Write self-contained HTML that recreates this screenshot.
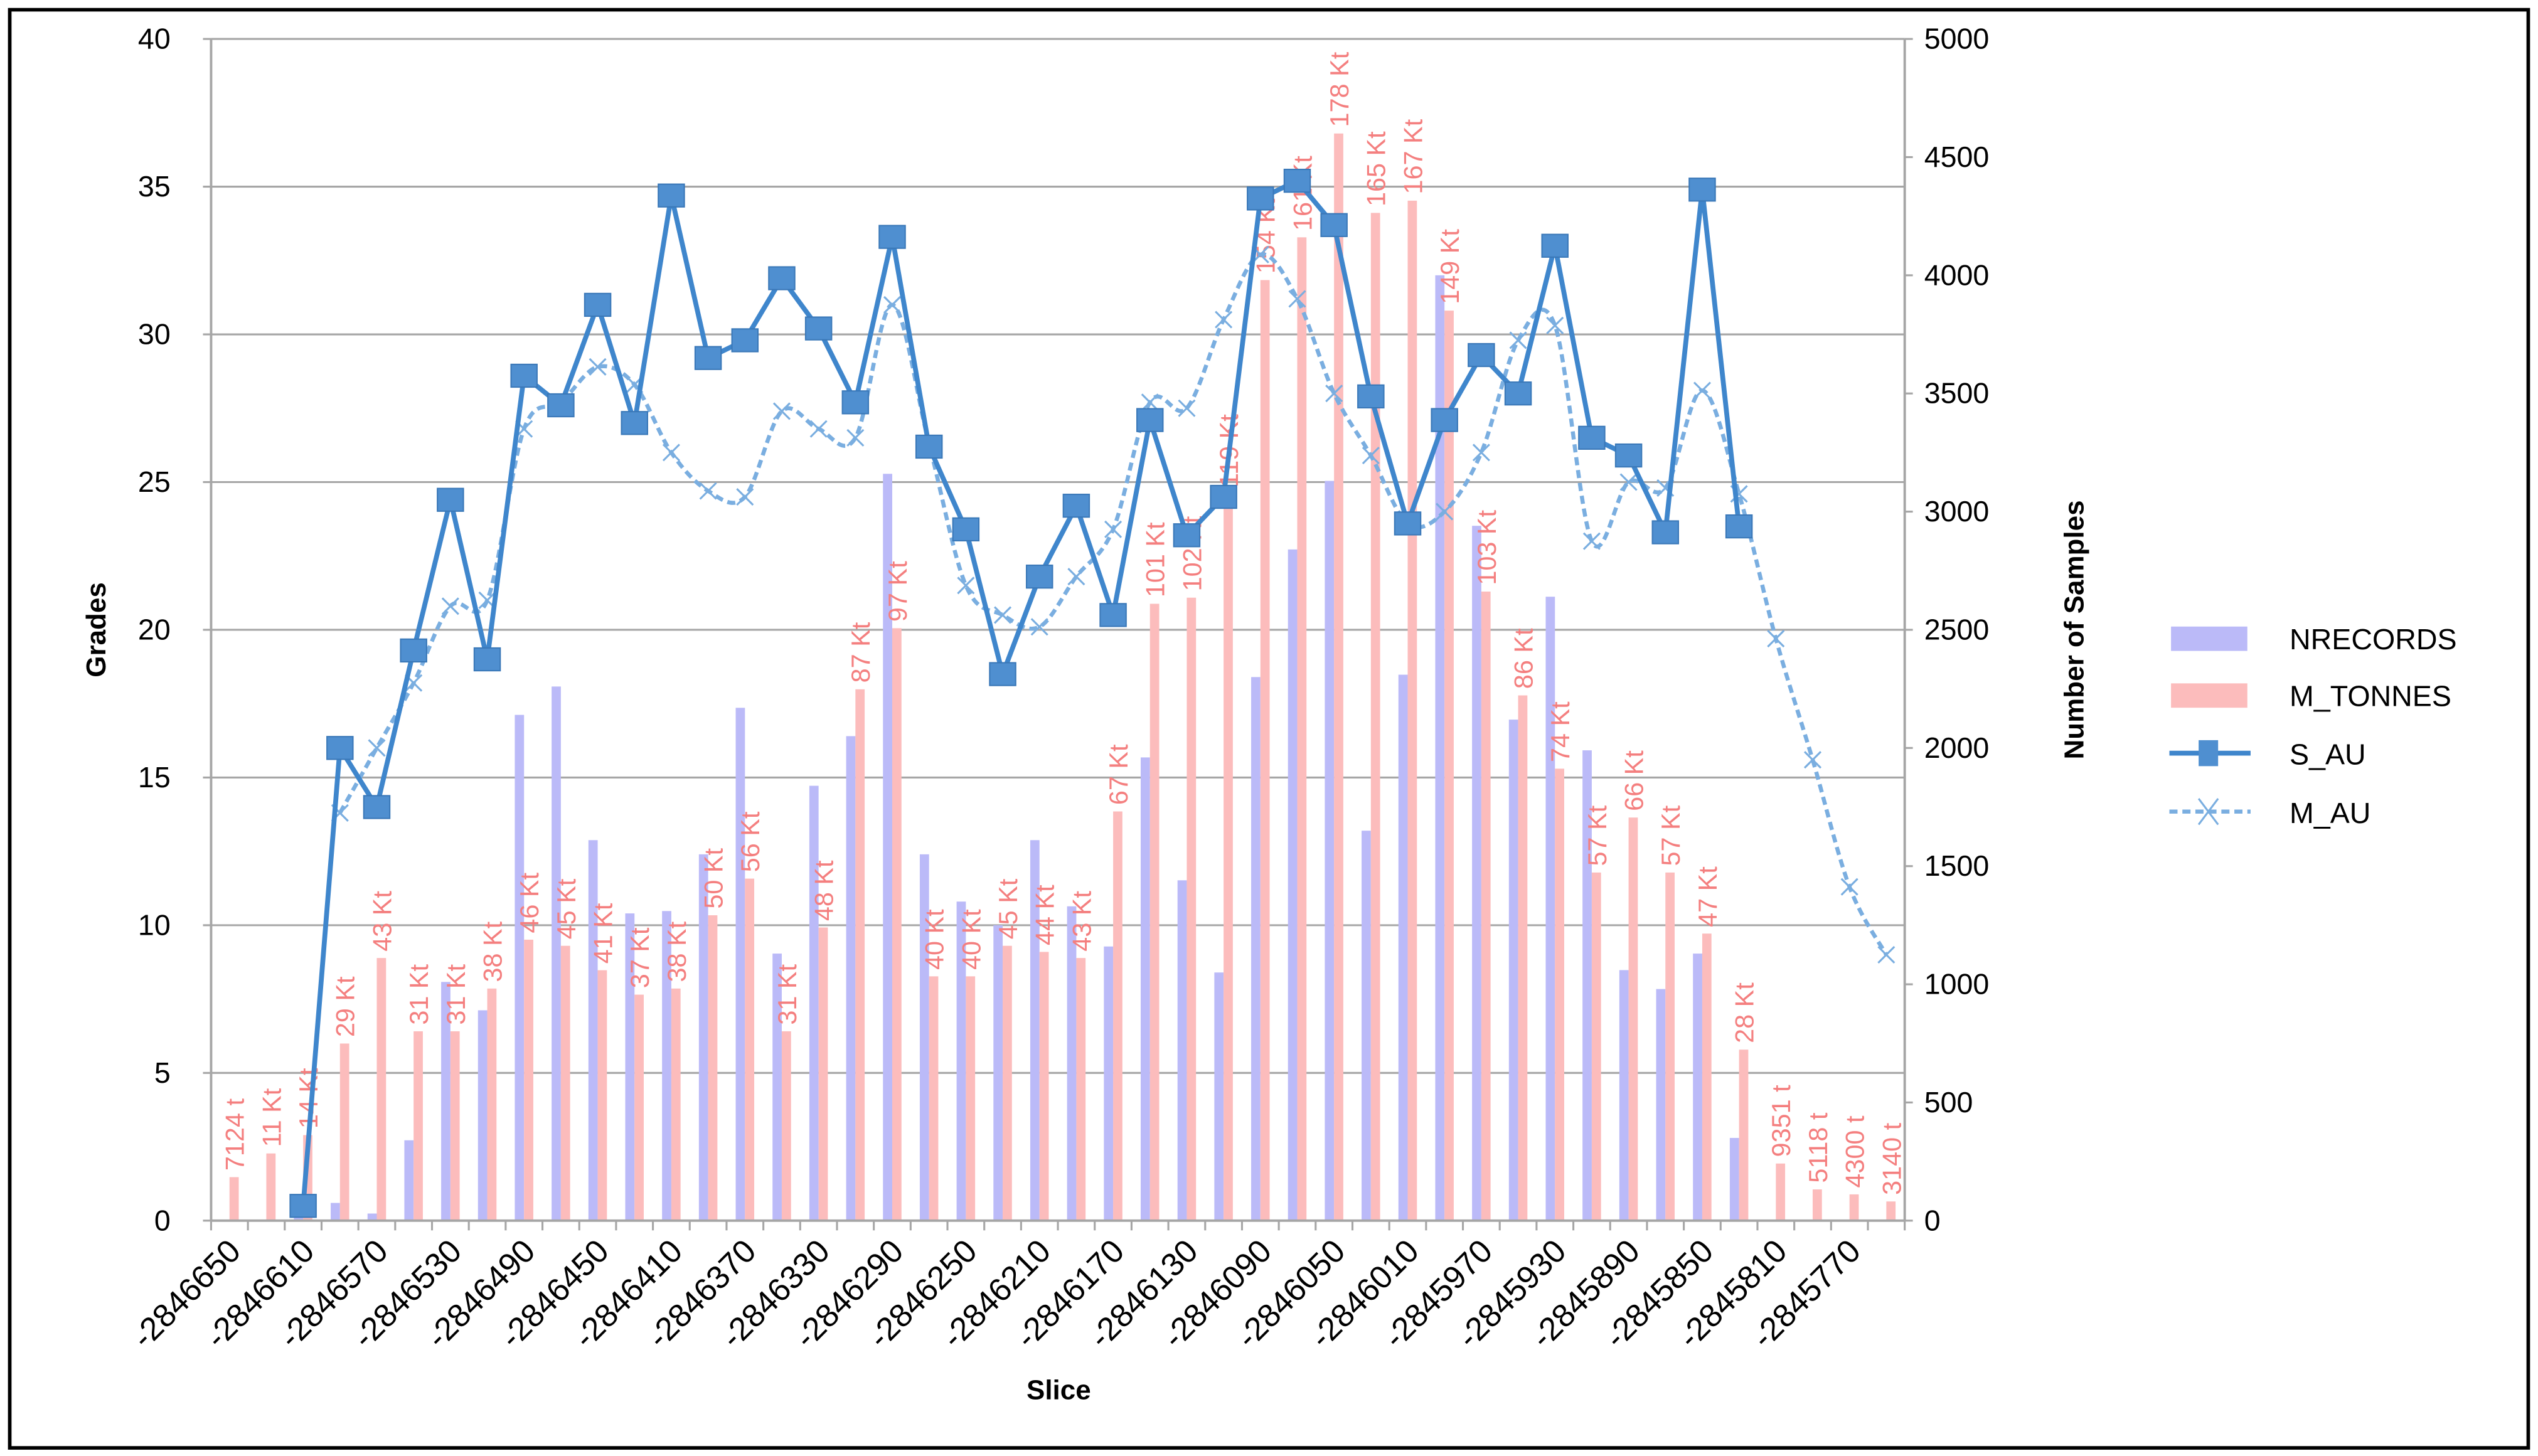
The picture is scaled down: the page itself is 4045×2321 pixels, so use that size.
<!DOCTYPE html>
<html><head><meta charset="utf-8">
<style>
html,body{margin:0;padding:0;background:#fff;}
svg{display:block;}
text{font-family:"Liberation Sans",sans-serif;}
</style></head>
<body>
<svg id="chart" width="4045" height="2321" viewBox="0 0 1563 897" preserveAspectRatio="none" xmlns="http://www.w3.org/2000/svg">
<rect x="0" y="0" width="1563" height="897" fill="#fff"/>
<rect x="6" y="6" width="1551" height="886" fill="none" stroke="#000" stroke-width="2.2"/>
<g id="grid"></g>
<g id="bars"></g>
<g id="lines"></g>
<g id="axes"></g>
<text transform="translate(65,388) rotate(-90)" text-anchor="middle" font-size="17" font-weight="bold">Grades</text>
<text transform="translate(1283,388) rotate(-90)" text-anchor="middle" font-size="17" font-weight="bold">Number of Samples</text>
<text x="652" y="862" text-anchor="middle" font-size="17" font-weight="bold">Slice</text>
<g>
<rect x="1337" y="386" width="47" height="15" fill="#bbbaf8"/>
<text x="1410" y="400" font-size="18">NRECORDS</text>
<rect x="1337" y="421" width="47" height="15" fill="#fcbcbc"/>
<text x="1410" y="435" font-size="18">M_TONNES</text>
<line x1="1336" y1="464" x2="1386" y2="464" stroke="#3f86cc" stroke-width="3"/>
<rect x="1354" y="456" width="12" height="16" fill="#4f8fd0"/>
<text x="1410" y="471" font-size="18">S_AU</text>
<line x1="1336" y1="500" x2="1386" y2="500" stroke="#7aaee0" stroke-width="2.5" stroke-dasharray="5,3"/>
<path d="M1354 492 L1366 508 M1366 492 L1354 508" stroke="#7aaee0" stroke-width="1.2"/>
<text x="1410" y="507" font-size="18">M_AU</text>
</g>
</svg>
<script>
const categories = [-2846650,-2846630,-2846610,-2846590,-2846570,-2846550,-2846530,-2846510,-2846490,-2846470,-2846450,-2846430,-2846410,-2846390,-2846370,-2846350,-2846330,-2846310,-2846290,-2846270,-2846250,-2846230,-2846210,-2846190,-2846170,-2846150,-2846130,-2846110,-2846090,-2846070,-2846050,-2846030,-2846010,-2845990,-2845970,-2845950,-2845930,-2845910,-2845890,-2845870,-2845850,-2845830,-2845810,-2845790,-2845770,-2845750];
const nrecords = [0,0,60,75,30,340,1010,890,2140,2260,1610,1300,1310,1550,2170,1130,1840,2050,3160,1550,1350,1250,1610,1330,1160,1960,1440,1050,2300,2840,3130,1650,2310,4000,2940,2120,2640,1990,1060,980,1130,350,0,0,0,0];
const tonnes = [7124,11000,14000,29000,43000,31000,31000,38000,46000,45000,41000,37000,38000,50000,56000,31000,48000,87000,97000,40000,40000,45000,44000,43000,67000,101000,102000,119000,154000,161000,178000,165000,167000,149000,103000,86000,74000,57000,66000,57000,47000,28000,9351,5118,4300,3140];
const tonneLabels = ["7124 t","11 Kt","14 Kt","29 Kt","43 Kt","31 Kt","31 Kt","38 Kt","46 Kt","45 Kt","41 Kt","37 Kt","38 Kt","50 Kt","56 Kt","31 Kt","48 Kt","87 Kt","97 Kt","40 Kt","40 Kt","45 Kt","44 Kt","43 Kt","67 Kt","101 Kt","102 Kt","119 Kt","154 Kt","161 Kt","178 Kt","165 Kt","167 Kt","149 Kt","103 Kt","86 Kt","74 Kt","57 Kt","66 Kt","57 Kt","47 Kt","28 Kt","9351 t","5118 t","4300 t","3140 t"];
const sAu = [null,null,0.5,16.0,14.0,19.3,24.4,19.0,28.6,27.6,31.0,27.0,34.7,29.2,29.8,31.9,30.2,27.7,33.3,26.2,23.4,18.5,21.8,24.2,20.5,27.1,23.2,24.5,34.6,35.2,33.7,27.9,23.6,27.1,29.3,28.0,33.0,26.5,25.9,23.3,34.9,23.5,null,null,null,null];
const mAu = [null,null,null,13.8,16.0,18.2,20.8,21.0,26.8,27.7,28.9,28.3,26.0,24.7,24.5,27.4,26.8,26.5,31.0,26.3,21.5,20.5,20.1,21.8,23.4,27.7,27.5,30.5,32.7,31.2,28.0,25.9,23.6,24.0,26.0,29.8,30.3,23.0,25.0,24.8,28.1,24.6,19.7,15.6,11.3,9.0];
const yTicks = [0,5,10,15,20,25,30,35,40];
const y2Ticks = [0,500,1000,1500,2000,2500,3000,3500,4000,4500,5000];

const NS="http://www.w3.org/2000/svg";
const L=130,R=1173,T=24,B=752;
const bw=(R-L)/categories.length;
function xc(i){return L+bw*(i+0.5);}
function y(v){return B-(v/40)*(B-T);}
function y2(v){return B-(v/5000)*(B-T);}
function yT(t){return y(t/1000*36.8/178);}
function mk(tag,attrs,parent){const e=document.createElementNS(NS,tag);for(const k in attrs)e.setAttribute(k,attrs[k]);parent.appendChild(e);return e;}
const grid=document.getElementById('grid'),bars=document.getElementById('bars'),lines=document.getElementById('lines'),axes=document.getElementById('axes');

yTicks.forEach(v=>{
  if(v>0){const g=mk('line',{x1:L,x2:R,y1:y(v),y2:y(v),stroke:'#a6a6a6','stroke-width':1.2},grid);
  
  }
  mk('line',{x1:L-5,x2:L,y1:y(v),y2:y(v),stroke:'#a6a6a6','stroke-width':1.2},axes);
  const t=mk('text',{x:L-25,y:y(v)+6,'text-anchor':'end','font-size':18},axes);t.textContent=v;
  
  
});
y2Ticks.forEach(v=>{
  mk('line',{x1:R,x2:R+5,y1:y2(v),y2:y2(v),stroke:'#a6a6a6','stroke-width':1.2},axes);
  const t=mk('text',{x:R+12,y:y2(v)+6,'font-size':18},axes);t.textContent=v;
  
  
});
mk('line',{x1:L,x2:L,y1:T,y2:B,stroke:'#a6a6a6','stroke-width':1.5},axes);
mk('line',{x1:R,x2:R,y1:T,y2:B,stroke:'#a6a6a6','stroke-width':1.5},axes);
mk('line',{x1:L,x2:R,y1:B,y2:B,stroke:'#a6a6a6','stroke-width':1.5},axes);
for(let i=0;i<=categories.length;i++){mk('line',{x1:L+bw*i,x2:L+bw*i,y1:B,y2:B+6,stroke:'#a6a6a6','stroke-width':1.2},axes);}
categories.forEach((c,i)=>{
  if(i%2!==0)return;
  const t=mk('text',{transform:`translate(${xc(i)+8},${B+20}) rotate(-45)`,'text-anchor':'end','font-size':20},axes);
  t.textContent=c;
  
  
});

const w=5.7;
categories.forEach((c,i)=>{
  if(nrecords[i]>0){const r=mk('rect',{x:xc(i)-w,y:y2(nrecords[i]),width:w,height:B-y2(nrecords[i]),fill:'#bbbaf8'},bars);
  
  }
  const ty=yT(tonnes[i]);
  const r2=mk('rect',{x:xc(i),y:ty,width:w,height:B-ty,fill:'#fcbcbc'},bars);
  
  
  const t=mk('text',{transform:`translate(${xc(i)+w/2+6},${ty-4}) rotate(-90)`,'font-size':16,fill:'#f47f7f'},bars);
  t.textContent=tonneLabels[i];
  
  
});

const mp=[];mAu.forEach((v,i)=>{if(v!=null)mp.push([xc(i),y(v)]);});
let d=`M${mp[0][0]},${mp[0][1]}`;
for(let k=0;k<mp.length-1;k++){
  const p0=mp[k-1]||mp[k],p1=mp[k],p2=mp[k+1],p3=mp[k+2]||mp[k+1];
  const c1=[p1[0]+(p2[0]-p0[0])/6,p1[1]+(p2[1]-p0[1])/6],c2=[p2[0]-(p3[0]-p1[0])/6,p2[1]-(p3[1]-p1[1])/6];
  d+=` C${c1[0]},${c1[1]} ${c2[0]},${c2[1]} ${p2[0]},${p2[1]}`;
}
const ml=mk('path',{d:d,fill:'none',stroke:'#7aaee0','stroke-width':2.5,'stroke-dasharray':'5,3'},lines);


mp.forEach(p=>{const m=mk('path',{d:`M${p[0]-5},${p[1]-5}L${p[0]+5},${p[1]+5}M${p[0]+5},${p[1]-5}L${p[0]-5},${p[1]+5}`,stroke:'#7aaee0','stroke-width':1.2},lines);
  
  });

const sp=[];sAu.forEach((v,i)=>{if(v!=null)sp.push([xc(i),y(v)]);});
const sl=mk('polyline',{points:sp.map(p=>p.join(',')).join(' '),fill:'none',stroke:'#3f86cc','stroke-width':3},lines);


sp.forEach(p=>{const m=mk('rect',{x:p[0]-8,y:p[1]-7,width:16,height:14,fill:'#4f8fd0',stroke:'#3a78b8','stroke-width':0.8},lines);
  
  });
</script>
</body></html>
